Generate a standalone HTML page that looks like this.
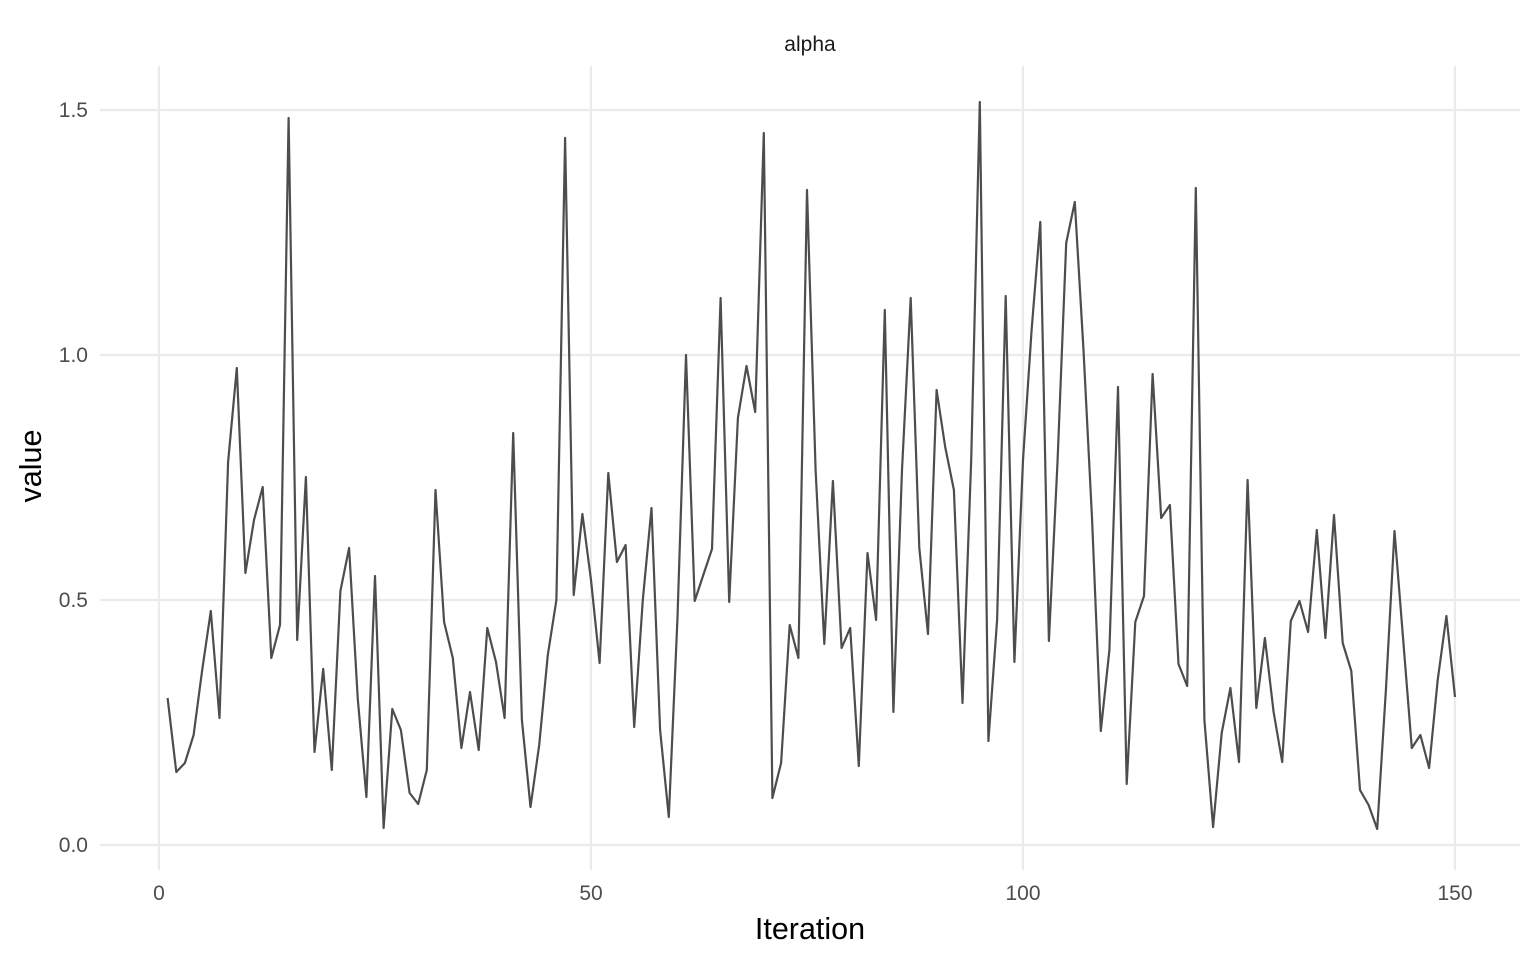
<!DOCTYPE html>
<html><head><meta charset="utf-8"><style>
html,body{margin:0;padding:0;background:#fff;}
svg{display:block;font-family:"Liberation Sans",Arial,sans-serif;}
</style></head><body>
<svg id="s" width="1536" height="960" viewBox="0 0 1536 960">
<g stroke="#ebebeb" stroke-width="2.2" fill="none">
<line x1="100" x2="1520" y1="845" y2="845"/>
<line x1="100" x2="1520" y1="600" y2="600"/>
<line x1="100" x2="1520" y1="355" y2="355"/>
<line x1="100" x2="1520" y1="110" y2="110"/>
<line y1="66" y2="870" x1="159" x2="159"/>
<line y1="66" y2="870" x1="591" x2="591"/>
<line y1="66" y2="870" x1="1023" x2="1023"/>
<line y1="66" y2="870" x1="1455" x2="1455"/>
</g>
<polyline id="pl" fill="none" stroke="#4d4d4d" stroke-width="2.2" stroke-linejoin="round"/>
<g fill="#4d4d4d" font-size="21" text-anchor="end">
<text x="88" y="852">0.0</text>
<text x="88" y="607">0.5</text>
<text x="88" y="362">1.0</text>
<text x="88" y="117">1.5</text>
</g>
<g fill="#4d4d4d" font-size="21" text-anchor="middle">
<text x="159" y="900">0</text>
<text x="591" y="900">50</text>
<text x="1023" y="900">100</text>
<text x="1455" y="900">150</text>
</g>
<text x="810" y="51" font-size="21" text-anchor="middle" fill="#1a1a1a">alpha</text>
<text x="810" y="939" font-size="30.5" text-anchor="middle" fill="#000">Iteration</text>
<text transform="translate(41,466) rotate(-90)" font-size="30.5" text-anchor="middle" fill="#000">value</text>
</svg>
<script>
var y=[698,772,763,735,670,611,718,462,368,573,520,487,658,625,118,640,477,752,669,770,591,548,698,797,576,828,709,730,793,804,770,490,622,658,748,692,750,628,662,718,433,720,807,745,655,600,138,595,514,580,663,473,562,545,727,600,508,730,817,620,355,601,575,549,298,602,418,366,412,133,798,763,625,658,190,470,644,481,648,628,766,553,620,310,712,470,298,548,634,390,447,490,703,460,102,741,620,296,662,460,330,222,641,460,243,202,350,520,731,650,387,784,622,596,374,518,505,664,686,188,720,827,733,688,762,480,708,638,712,762,621,601,632,530,638,515,643,671,790,805,829,690,531,640,748,735,768,680,616,697];
var p=[];for(var i=0;i<y.length;i++){p.push((159+8.64*(i+1)).toFixed(1)+","+y[i]);}
document.getElementById("pl").setAttribute("points",p.join(" "));
</script>
</body></html>
